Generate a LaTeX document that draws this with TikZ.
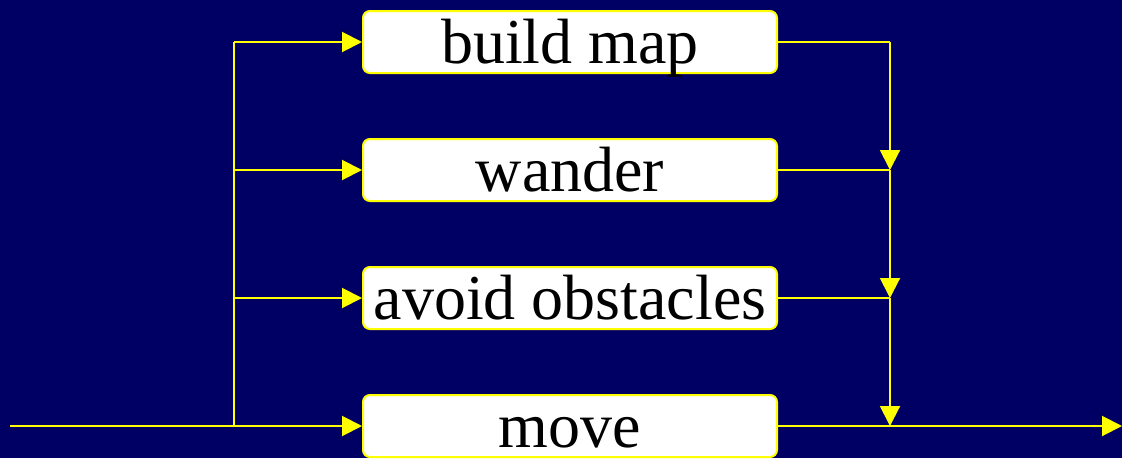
\documentclass[tikz,border=0pt]{standalone}
\usepackage{fontspec}
\setmainfont{Liberation Serif}
\usetikzlibrary{arrows.meta}
\definecolor{bgnavy}{RGB}{0,0,100}
\definecolor{ylw}{RGB}{255,255,0}
\begin{document}
\begin{tikzpicture}[x=1pt,y=-1pt,
  behav/.style={draw=ylw,fill=white,line width=2pt,rounded corners=7pt,
    minimum width=414pt,minimum height=62pt,inner sep=0pt,
    text height=48pt,text depth=6pt,
    font=\fontsize{64}{64}\selectfont,text=black},
  wire/.style={draw=ylw,line width=2pt},
  arr/.style={wire,-{Triangle[length=20pt,width=20pt]}}]
\useasboundingbox (0,0) rectangle (1122,458);
\fill[bgnavy] (0,0) rectangle (1122,458);
\node[behav] (b1) at (570,42) {build map};
\node[behav] (b2) at (570,170) {wander};
\node[behav] (b3) at (570,298) {avoid obstacles};
\node[behav] (b4) at (570,426) {move};
\coordinate (in) at (10,426);
\coordinate (l1) at (234,42);
\coordinate (l2) at (234,170);
\coordinate (l3) at (234,298);
\coordinate (l4) at (234,426);
\coordinate (r1) at (890,42);
\coordinate (r2) at (890,170);
\coordinate (r3) at (890,298);
\coordinate (r4) at (890,426);
\coordinate (out) at (1122,426);
% left fan-out
\draw[wire] (in) -- (l4);
\draw[wire] (l4) -- (l1);
\draw[arr] (l1) -- (b1.west);
\draw[arr] (l2) -- (b2.west);
\draw[arr] (l3) -- (b3.west);
\draw[arr] (l4) -- (b4.west);
% right merge
\draw[wire] (b1.east) -- (r1);
\draw[arr] (r1) -- (r2);
\draw[wire] (b2.east) -- (r2);
\draw[arr] (r2) -- (r3);
\draw[wire] (b3.east) -- (r3);
\draw[arr] (r3) -- (r4);
\draw[arr] (b4.east) -- (out);
\end{tikzpicture}
\end{document}
